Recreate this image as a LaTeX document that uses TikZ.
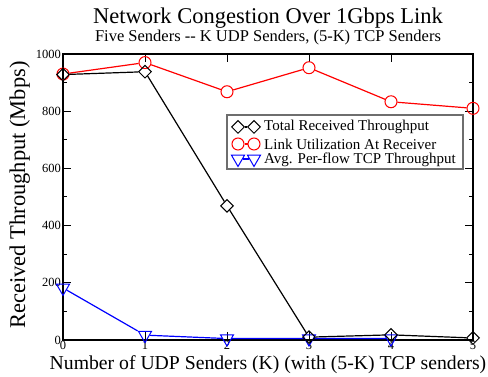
\documentclass[tikz,border=0pt]{standalone}
\usepackage{fontspec}
\setmainfont{Liberation Serif}
\usepackage{tikz}
\usetikzlibrary{shapes.geometric}
\definecolor{plred}{RGB}{255,0,0}
\definecolor{plblue}{RGB}{0,0,255}
\definecolor{plgray}{RGB}{110,110,110}

\begin{document}
\begin{tikzpicture}[x=1pt, y=1pt,
  mdiam/.style={draw, diamond, inner sep=0pt, minimum size=13pt, line width=1pt},
  mcirc/.style={draw=plred, circle, inner sep=0pt, minimum size=12pt, line width=1pt},
  mtri/.style={draw=plblue, regular polygon, regular polygon sides=3, shape border rotate=180, inner sep=0pt, minimum size=15pt, line width=1pt},
  ticklab/.style={font=\fontsize{12.5}{14}\selectfont, inner sep=1pt},
  legtext/.style={font=\fontsize{15}{17}\selectfont, anchor=west, inner sep=0pt}]
\useasboundingbox (0,0) rectangle (488,377);

% titles and axis labels
\node[font=\fontsize{22.5}{26}\selectfont, anchor=base] (title) at (268,353) {Network Congestion Over 1Gbps Link};
\node[font=\fontsize{16.5}{19}\selectfont, anchor=base] (subtitle) at (268,335) {Five Senders -{}- K UDP Senders, (5-K) TCP Senders};
\node[font=\fontsize{19.7}{22}\selectfont, anchor=base] (xlab) at (268,7) {Number of UDP Senders (K) (with (5-K) TCP senders)};
\node[font=\fontsize{22.5}{26}\selectfont, anchor=base, rotate=90] (ylab) at (25,182) {Received Throughput (Mbps)};

\begin{scope}[shift={(63,37)}, x=82pt, y=0.286pt]
  % frame and ticks
  \draw[line width=1.3pt] (0,0) rectangle (5,1000);
  \foreach \v in {0,200,...,1000} {
    \draw[line width=1pt] (0,\v) -- ++(8pt,0);
    \draw[line width=1pt] (5,\v) -- ++(-8pt,0);
    \node[ticklab, anchor=east, xshift=-1pt] (yt\v) at (0,\v) {\v};
  }
  \foreach \v in {100,300,...,900} {
    \draw[line width=1pt] (0,\v) -- ++(4pt,0);
    \draw[line width=1pt] (5,\v) -- ++(-4pt,0);
  }
  \foreach \k in {0,...,5} {
    \draw[line width=1pt] (\k,0) -- ++(0,8pt);
    \draw[line width=1pt] (\k,1000) -- ++(0,-8pt);
    \node[ticklab, anchor=north] (xt\k) at (\k,0) {\k};
  }

  % link utilization
  \foreach \k/\v in {0/930,1/970,2/868,3/952,4/833,5/810}
    \node[mcirc] (l\k) at (\k,\v) {};
  \draw[plred, line width=1.2pt] (l0) -- (l1) -- (l2) -- (l3) -- (l4) -- (l5);

  % avg per-flow tcp
  \foreach \k/\v in {0/182,1/17,2/5,3/5,4/5}
    \node[mtri] (a\k) at (\k,\v) {};
  \draw[plblue, line width=1.2pt] (a0) -- (a1) -- (a2) -- (a3) -- (a4);

  % total received
  \foreach \k/\v in {0/928,1/938,2/469,3/10,4/18,5/7}
    \node[mdiam] (t\k) at (\k,\v) {};
  \draw[line width=1.2pt] (t0) -- (t1) -- (t2) -- (t3) -- (t4) -- (t5);
\end{scope}

% legend
\node[draw=plgray, line width=1.3pt, fill=white, minimum width=236pt, minimum height=54pt, inner sep=0pt] (legend) at (345,235) {};
\node[mdiam] (lt1) at (238,250) {};
\node[mdiam] (lt2) at (254,250) {};
\draw[line width=1.2pt] (lt1) -- (lt2);
\node[legtext] (lttext) at (264,250) {Total Received Throughput};
\node[mcirc] (ll1) at (238,233) {};
\node[mcirc] (ll2) at (254,233) {};
\draw[plred, line width=1.2pt] (ll1) -- (ll2);
\node[legtext] (lltext) at (264,233) {Link Utilization At Receiver};
\node[mtri] (la1) at (238,218) {};
\node[mtri] (la2) at (254,218) {};
\draw[plblue, line width=1.2pt] (la1) -- (la2);
\node[legtext] (latext) at (264,217) {Avg. Per-flow TCP Throughput};
\end{tikzpicture}
\end{document}
